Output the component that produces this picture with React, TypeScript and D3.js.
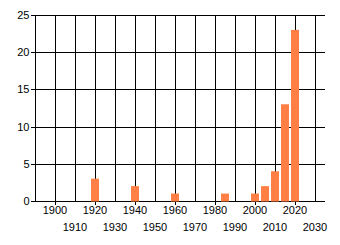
import React from "react";
import * as d3 from "d3";

const years = [1920, 1940, 1960, 1985, 2000, 2005, 2010, 2015, 2020];
const counts = [3, 2, 1, 1, 1, 2, 4, 13, 23];
const xTicks = [1900, 1910, 1920, 1930, 1940, 1950, 1960, 1970, 1980, 1990, 2000, 2010, 2020, 2030];
const yTicks = [0, 5, 10, 15, 20, 25];

const W = 340;
const H = 245;
const FONT = "'Liberation Sans', Arial, sans-serif";

export default function App() {
  const x = d3.scaleLinear().domain([1890, 2035]).range([35, 325]);
  const y = d3.scaleLinear().domain([0, 25]).range([201, 15]);
  const barHalf = (x(1894) - x(1890)) / 2;
  const gridX = d3.range(1890, 2031, 10);

  return (
    <svg
      width={W}
      height={H}
      style={{ position: "absolute", left: 0, top: 0, background: "#fff" }}
      fontFamily={FONT}
    >
      <rect width={W} height={H} fill="#fff" />
      {/* horizontal grid + y ticks */}
      {yTicks.map((t) => (
        <line
          key={"h" + t}
          x1={31}
          x2={x(2035)}
          y1={Math.round(y(t)) + 0.5}
          y2={Math.round(y(t)) + 0.5}
          stroke="#000"
          strokeWidth={1}
        />
      ))}
      {/* vertical grid */}
      {gridX.map((g) => (
        <line
          key={"v" + g}
          x1={Math.round(x(g)) + 0.5}
          x2={Math.round(x(g)) + 0.5}
          y1={y(25)}
          y2={y(0) + ((g - 1890) % 20 === 0 && g !== 1890 ? 0 : g === 1890 ? 0 : 4)}
          stroke="#000"
          strokeWidth={1}
        />
      ))}
      {/* bars */}
      {years.map((yr, i) => (
        <rect
          key={"b" + yr}
          x={x(yr) - barHalf}
          width={barHalf * 2}
          y={y(counts[i])}
          height={y(0) - y(counts[i]) + 0.5}
          fill="#ff7f45"
        />
      ))}
      {/* y labels */}
      {yTicks.map((t) => (
        <text
          key={"yl" + t}
          x={29.5}
          y={y(t)}
          dy="0.36em"
          textAnchor="end"
          fontSize={11}
          fill="#000"
        >
          {t}
        </text>
      ))}
      {/* x labels, staggered */}
      {xTicks.map((t, i) => (
        <text
          key={"xl" + t}
          x={x(t)}
          y={i % 2 === 0 ? 214 : 230.5}
          textAnchor="middle"
          fontSize={11}
          fill="#000"
        >
          {t}
        </text>
      ))}
    </svg>
  );
}
